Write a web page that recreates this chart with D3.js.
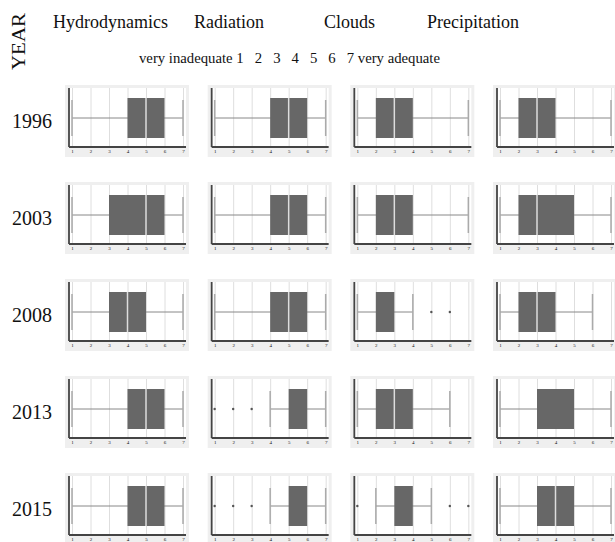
<!DOCTYPE html>
<html>
<head>
<meta charset="utf-8">
<script src="https://cdn.jsdelivr.net/npm/d3@7"></script>
<style>
  body { margin: 0; background: #fff; }
  text { font-family: "Liberation Serif", "DejaVu Serif", serif; fill: #111; }
</style>
</head>
<body>
<svg width="615" height="542"></svg>
<script>
// data: [min, q1, median, q3, max] per year
var years = ['1996', '2003', '2008', '2013', '2015'];
var topics = ['Hydrodynamics', 'Radiation', 'Clouds', 'Precipitation'];
var scaleTicks = [1, 2, 3, 4, 5, 6, 7];

var hydrodynamics = [[1,4,5,6,7], [1,3,5,6,7], [1,3,4,5,7], [1,4,5,6,7], [1,4,5,6,7]];
var radiation     = [[1,4,5,6,7], [1,4,5,6,7], [1,4,5,6,7], [4,5,5,6,7], [4,5,5,6,7]];
var clouds        = [[1,2,3,4,7], [1,2,3,4,7], [1,2,2,3,4], [1,2,3,4,6], [2,3,3,4,5]];
var precipitation = [[1,2,3,4,7], [1,2,3,5,7], [1,2,3,4,6], [1,3,3,5,7], [1,3,4,5,7]];

var hydroOutliers  = [[], [], [], [], []];
var radOutliers    = [[], [], [], [1,2,3], [1,2,3]];
var cloudOutliers  = [[], [], [5,6], [], [1,6,7]];
var precipOutliers = [[], [], [], [], []];

var stats = [hydrodynamics, radiation, clouds, precipitation];
var outliers = [hydroOutliers, radOutliers, cloudOutliers, precipOutliers];

var svg = d3.select('svg');

var colX = d3.scaleLinear().domain([0, 3]).range([72, 500]);   // x of tick "1" in each column
var rowY = d3.scaleLinear().domain([0, 4]).range([147, 535]);  // bottom axis line of each row

var x = d3.scaleLinear().domain([1, 7]).range([0, 111]);
var y = d3.scaleLinear().domain([0, 1]).range([0, -59]);

// header
svg.append('text')
    .attr('transform', 'translate(25,70) rotate(-90)')
    .attr('font-size', 18)
    .attr('textLength', 57)
    .attr('lengthAdjust', 'spacingAndGlyphs')
    .text('YEAR');

var titleX = [53, 194, 324, 427];
svg.selectAll('.topic')
    .data(topics)
    .enter()
    .append('text')
    .attr('class', 'topic')
    .attr('x', function(d, i) { return titleX[i]; })
    .attr('y', 28)
    .attr('font-size', 18)
    .text(function(d) { return d; });

svg.append('text')
    .attr('x', 139)
    .attr('y', 63)
    .attr('font-size', 15)
    .attr('textLength', 301)
    .attr('lengthAdjust', 'spacingAndGlyphs')
    .style('white-space', 'pre')
    .text('very inadequate 1   2   3   4   5   6   7 very adequate');

// year labels
svg.selectAll('.year')
    .data(years)
    .enter()
    .append('text')
    .attr('class', 'year')
    .attr('x', 12)
    .attr('y', function(d, i) { return rowY(i) - 19; })
    .attr('font-size', 20)
    .text(function(d) { return d; });

// panels
topics.forEach(function(topic, c) {
    years.forEach(function(year, r) {
        var s = stats[c][r];
        var g = svg.append('g')
            .attr('transform', 'translate(' + colX(c) + ',' + rowY(r) + ')');

        g.append('rect')
            .attr('x', -7).attr('y', -62)
            .attr('width', 124).attr('height', 72)
            .attr('fill', '#efefef');
        g.append('rect')
            .attr('x', -3).attr('y', y(1))
            .attr('width', 117).attr('height', -y(1))
            .attr('fill', '#fff');

        // grid
        g.append('g')
            .call(d3.axisBottom(x).tickValues(scaleTicks).tickSize(y(1)).tickFormat(''))
            .call(function(a) { a.select('.domain').remove(); })
            .selectAll('line').attr('stroke', '#d6d6d6').attr('stroke-width', 0.8);

        // tick labels
        g.append('g')
            .call(d3.axisBottom(x).tickValues(scaleTicks).tickSize(0).tickPadding(2).tickFormat(d3.format('d')))
            .call(function(a) { a.select('.domain').remove(); })
            .selectAll('text')
            .attr('font-size', 5)
            .attr('fill', '#333');

        // axis lines
        g.append('line')
            .attr('x1', -3).attr('x2', 114).attr('y1', 0).attr('y2', 0)
            .attr('stroke', '#444').attr('stroke-width', 1.8);
        g.append('line')
            .attr('x1', -3).attr('x2', -3).attr('y1', y(1)).attr('y2', 0)
            .attr('stroke', '#444').attr('stroke-width', 1.8);

        var mid = -29;
        // whiskers
        g.append('line')
            .attr('x1', x(s[0])).attr('x2', x(s[4]))
            .attr('y1', mid).attr('y2', mid)
            .attr('stroke', '#888').attr('stroke-width', 1);
        g.selectAll('.cap')
            .data([s[0], s[4]])
            .enter()
            .append('line')
            .attr('x1', function(d) { return x(d); })
            .attr('x2', function(d) { return x(d); })
            .attr('y1', mid - 18).attr('y2', mid + 18)
            .attr('stroke', '#aaa').attr('stroke-width', 1.5);

        // box
        g.append('rect')
            .attr('x', x(s[1]))
            .attr('y', mid - 20)
            .attr('width', x(s[3]) - x(s[1]))
            .attr('height', 40)
            .attr('fill', '#676767');
        if (s[2] > s[1] && s[2] < s[3]) {
            g.append('line')
                .attr('x1', x(s[2])).attr('x2', x(s[2]))
                .attr('y1', mid - 20).attr('y2', mid + 20)
                .attr('stroke', '#ddd').attr('stroke-width', 1.5);
        }

        // outliers
        g.selectAll('.out')
            .data(outliers[c][r])
            .enter()
            .append('circle')
            .attr('cx', function(d) { return x(d); })
            .attr('cy', mid)
            .attr('r', 1.2)
            .attr('fill', '#555');
    });
});
</script>
</body>
</html>
